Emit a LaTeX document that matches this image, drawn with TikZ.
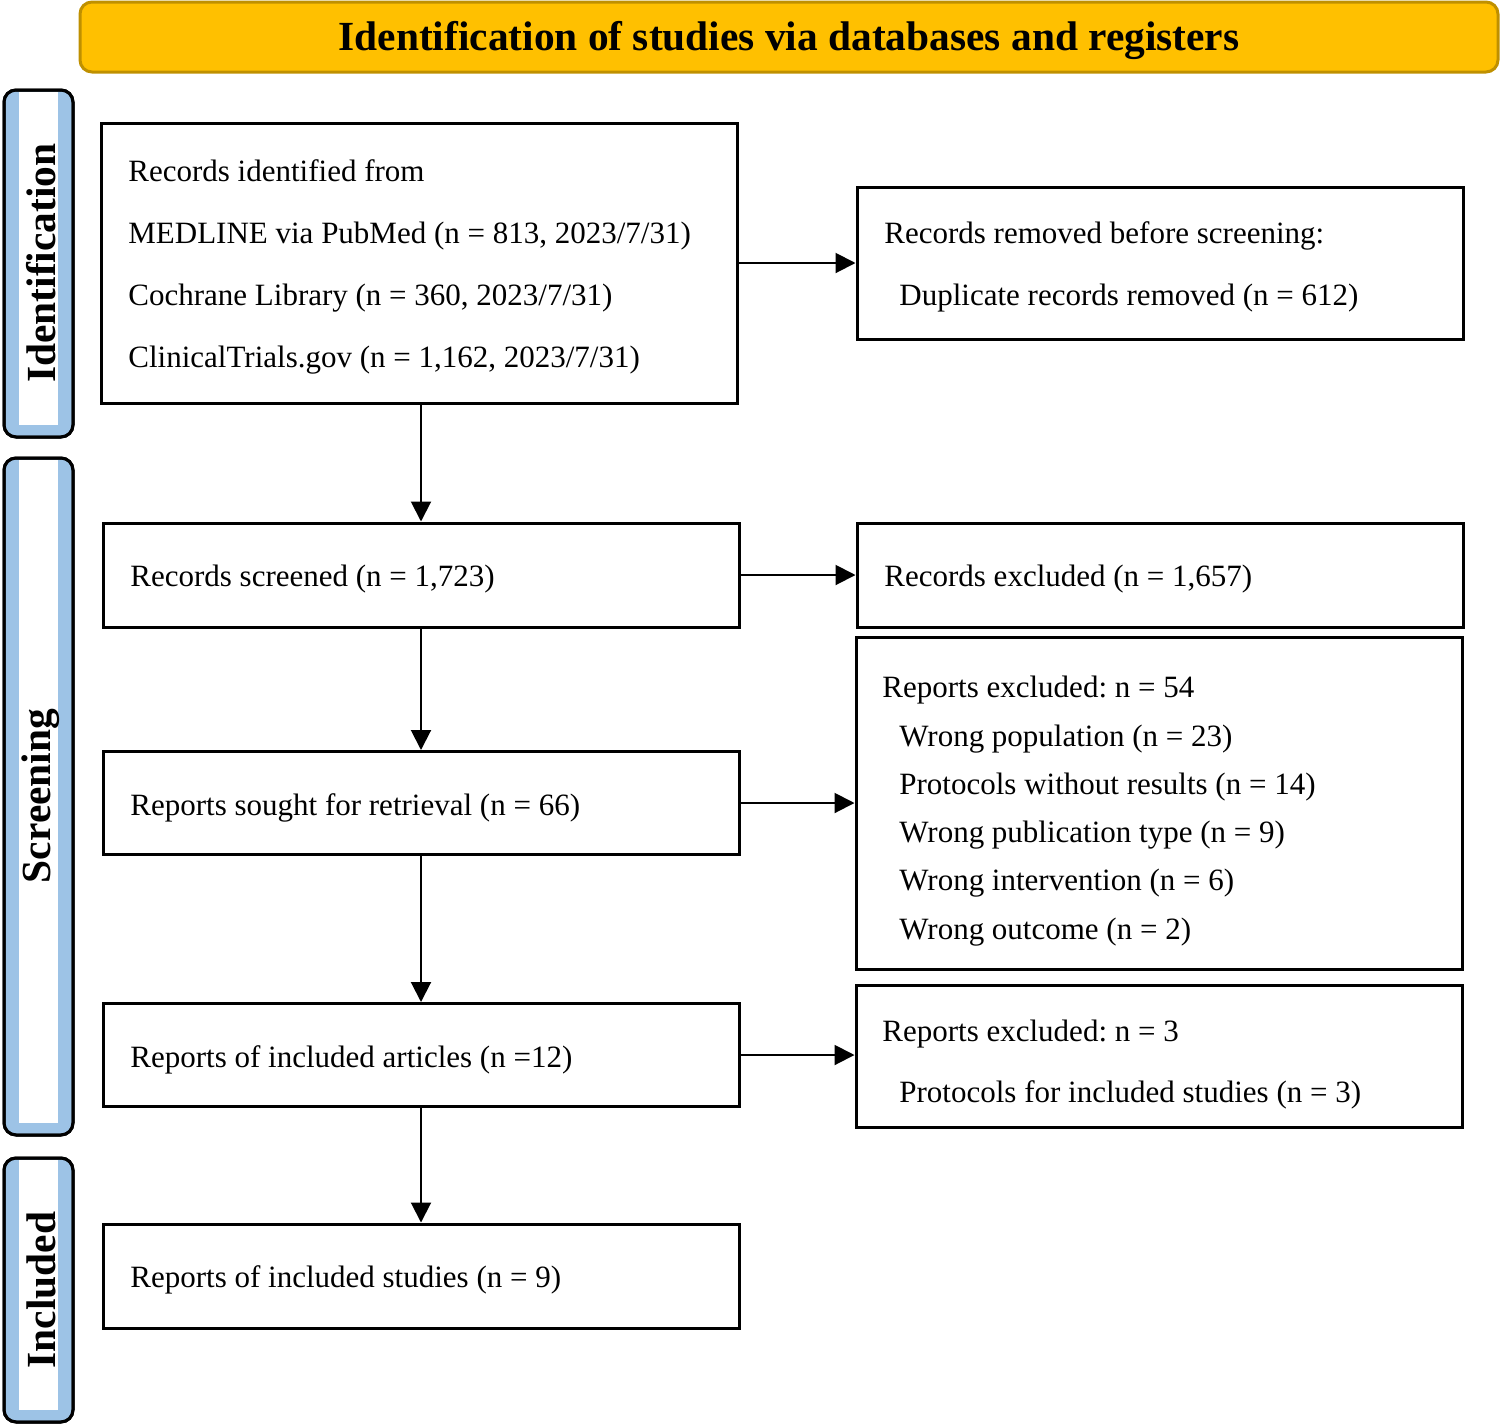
\documentclass[tikz,border=0pt]{standalone}
\usepackage{fontspec}
\setmainfont{Liberation Serif}
\usetikzlibrary{arrows.meta}
\definecolor{gold}{HTML}{FFC000}
\definecolor{golddark}{HTML}{BF9000}
\definecolor{sideblue}{HTML}{9DC3E6}
\frenchspacing
\begin{document}
\begin{tikzpicture}[x=0.5pt,y=-0.5pt,
  box/.style={draw, line width=1.5pt, inner sep=0pt, rectangle},
  txt/.style={anchor=base west, inner sep=0pt, font=\fontsize{15.5}{18}\selectfont},
  side/.style={rotate=90, inner sep=0pt, font=\bfseries\fontsize{20.7}{20.7}\selectfont},
  arr/.style={line width=1pt, -{Triangle[length=10pt,width=10pt]}}
]
\useasboundingbox (0,0) rectangle (1500,1425);
% title
\node[draw=golddark, fill=gold, line width=1.5pt, rounded corners=6pt, minimum width=709pt, minimum height=35pt, inner sep=0pt] (title) at (789,37) {};
\node[inner sep=0pt, font=\bfseries\fontsize{20.7}{20.7}\selectfont] (titletext) at (789,40) {Identification of studies via databases and registers};
% side bars
\foreach \nm/\ya/\yb/\lab in {sid/90/437/Identification, sscr/458/1135/Screening, sinc/1158/1422/Included}{
  \draw[line width=1.5pt, fill=sideblue, rounded corners=6pt] (4,\ya) rectangle (73,\yb);
  \fill[white] (19,\ya+2) rectangle (58,\yb-12);
  \draw[line width=1.5pt, rounded corners=6pt] (4,\ya) rectangle (73,\yb);
}
\node[side] (lid) at (41,263) {Identification};
\node[side] (lscr) at (41,796) {Screening};
\node[side] (linc) at (41,1290) {Included};
% boxes
\node[box, minimum width=318pt, minimum height=140pt] (b1) at (419,263) {};
\node[box, minimum width=303pt, minimum height=76pt] (b2) at (1160,263) {};
\node[box, minimum width=318pt, minimum height=52pt] (b3) at (421,575) {};
\node[box, minimum width=303pt, minimum height=52pt] (b4) at (1160,575) {};
\node[box, minimum width=318pt, minimum height=51.5pt] (b5) at (421,803) {};
\node[box, minimum width=303pt, minimum height=166pt] (b6) at (1159,803) {};
\node[box, minimum width=318pt, minimum height=51.5pt] (b7) at (421,1055) {};
\node[box, minimum width=303pt, minimum height=71pt] (b8) at (1159,1056) {};
\node[box, minimum width=318pt, minimum height=52pt] (b9) at (421,1276) {};
% texts
\node[txt] (t1a) at (128,181) {Records identified from};
\node[txt] (t1b) at (128,243) {MEDLINE via PubMed (n = 813, 2023/7/31)};
\node[txt] (t1c) at (128,305) {Cochrane Library (n = 360, 2023/7/31)};
\node[txt] (t1d) at (128,367) {ClinicalTrials.gov (n = 1,162, 2023/7/31)};
\node[txt] (t2a) at (884,243) {Records removed before screening:};
\node[txt] (t2b) at (899,305) {Duplicate records removed (n = 612)};
\node[txt] (t3) at (130,586) {Records screened (n = 1,723)};
\node[txt] (t4) at (884,586) {Records excluded (n = 1,657)};
\node[txt] (t5) at (130,815) {Reports sought for retrieval (n = 66)};
\node[txt] (t6a) at (882,697) {Reports excluded: n = 54};
\node[txt] (t6b) at (899,746) {Wrong population (n = 23)};
\node[txt] (t6c) at (899,794) {Protocols without results (n = 14)};
\node[txt] (t6d) at (899,842) {Wrong publication type (n = 9)};
\node[txt] (t6e) at (899,890) {Wrong intervention (n = 6)};
\node[txt] (t6f) at (899,939) {Wrong outcome (n = 2)};
\node[txt] (t7) at (130,1067) {Reports of included articles (n =12)};
\node[txt] (t8a) at (882,1041) {Reports excluded: n = 3};
\node[txt] (t8b) at (899,1102) {Protocols for included studies (n = 3)};
\node[txt] (t9) at (130,1287) {Reports of included studies (n = 9)};
% arrows
\draw[arr] (b1.east) -- (b2.west);
\draw[arr] (b3.east) -- (b4.west);
\draw[arr] (b5.east) -- (b5.east -| b6.west);
\draw[arr] (b7.east) -- (b7.east -| b8.west);
\draw[arr] (b1.south -| b3.north) -- (b3.north);
\draw[arr] (b3.south) -- (b5.north);
\draw[arr] (b5.south) -- (b7.north);
\draw[arr] (b7.south) -- (b9.north);
\end{tikzpicture}
\end{document}
